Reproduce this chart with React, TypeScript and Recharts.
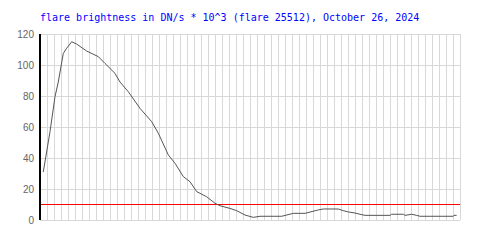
import React from 'react';
import {
  LineChart,
  Line,
  XAxis,
  YAxis,
  CartesianGrid,
  ReferenceLine,
} from 'recharts';

// minutes since start of the plot window
const minutes = [
  0.47, 1.43, 2.14, 2.61, 3.33, 3.81, 4.53, 5.24, 6.67, 8.33, 9.29, 10.71,
  11.43, 12.61, 14.29, 15.96, 16.9, 18.33, 19.29, 20.47, 21.43, 22.39, 23.81,
  25, 25.71, 27.14, 28.1, 29.29, 30.47, 31.43, 34.53, 36.19, 37.86, 39.76,
  40.47, 42.61, 43.33, 44.05, 45, 45.71, 46.43, 50, 50.24, 51.9, 52.14, 53.1,
  53.81, 54.29, 59.05, 59.14, 59.52,
];

// brightness, DN/s * 10^3
const brightness = [
  31, 57, 79.5, 89, 107.5, 110.8, 115, 113.5, 109, 105.4, 101, 94.6, 89, 82.8,
  72, 63.4, 56, 42, 36.6, 28, 24.7, 18.3, 15, 10.8, 9.2, 7.5, 6, 3.2, 1.7, 2.4,
  2.4, 4.3, 4.3, 6.5, 7.1, 7.1, 6, 5.2, 4.5, 3.7, 3, 3, 3.7, 3.7, 3, 3.7, 3,
  2.4, 2.4, 3, 3,
];

const yTicks = [0, 20, 40, 60, 80, 100, 120];
const xMax = 60;
const xTicks = Array.from({ length: xMax + 1 }, (_, i) => i);
const threshold = 10;

const title =
  'flare brightness in DN/s * 10^3 (flare 25512), October 26, 2024';

const data = minutes.map((t, i) => ({ t, value: brightness[i] }));

// one vertical grid line per minute
const verticalGrid = (props: any) => {
  const scale = props?.xAxis?.scale;
  if (scale && typeof scale === 'function') {
    return xTicks.map((t) => scale(t));
  }
  if (scale && typeof scale.map === 'function') {
    return xTicks.map((t) => scale.map(t));
  }
  const { left, width } = props.offset;
  return xTicks.map((t) => left + (t / xMax) * width);
};

const axisStyle = { stroke: '#000', strokeWidth: 2, shapeRendering: 'crispEdges' };

const App: React.FC = () => {
  return (
    <div
      style={{
        position: 'absolute',
        left: 0,
        top: 0,
        width: 500,
        height: 250,
        background: '#fff',
      }}
    >
      <div
        style={{
          position: 'absolute',
          left: 40,
          top: 12,
          fontFamily: '"DejaVu Sans Mono", monospace',
          fontSize: 10,
          lineHeight: '12px',
          color: '#0000ff',
          whiteSpace: 'pre',
        }}
      >
        {title}
      </div>
      <LineChart
        width={500}
        height={250}
        data={data}
        margin={{ top: 34, right: 40, bottom: 30, left: 0 }}
      >
        <CartesianGrid
          stroke="#d8d8d8"
          strokeWidth={1}
          shapeRendering="crispEdges"
          verticalCoordinatesGenerator={verticalGrid}
        />
        <XAxis
          dataKey="t"
          type="number"
          domain={[0, xMax]}
          ticks={xTicks}
          interval={0}
          tick={false}
          tickLine={false}
          height={0}
          axisLine={axisStyle}
        />
        <YAxis
          type="number"
          domain={[0, 120]}
          ticks={yTicks}
          width={40}
          tickLine={false}
          tickMargin={0}
          axisLine={axisStyle}
          tick={{
            fontSize: 10,
            fill: '#666',
            fontFamily: '"Liberation Sans", Arial, sans-serif',
          }}
        />
        <ReferenceLine
          y={threshold}
          stroke="#ff0000"
          strokeWidth={1}
          shapeRendering="crispEdges"
        />
        <Line
          type="linear"
          dataKey="value"
          stroke="#555"
          strokeWidth={1}
          dot={false}
          isAnimationActive={false}
        />
      </LineChart>
    </div>
  );
};

export default App;
